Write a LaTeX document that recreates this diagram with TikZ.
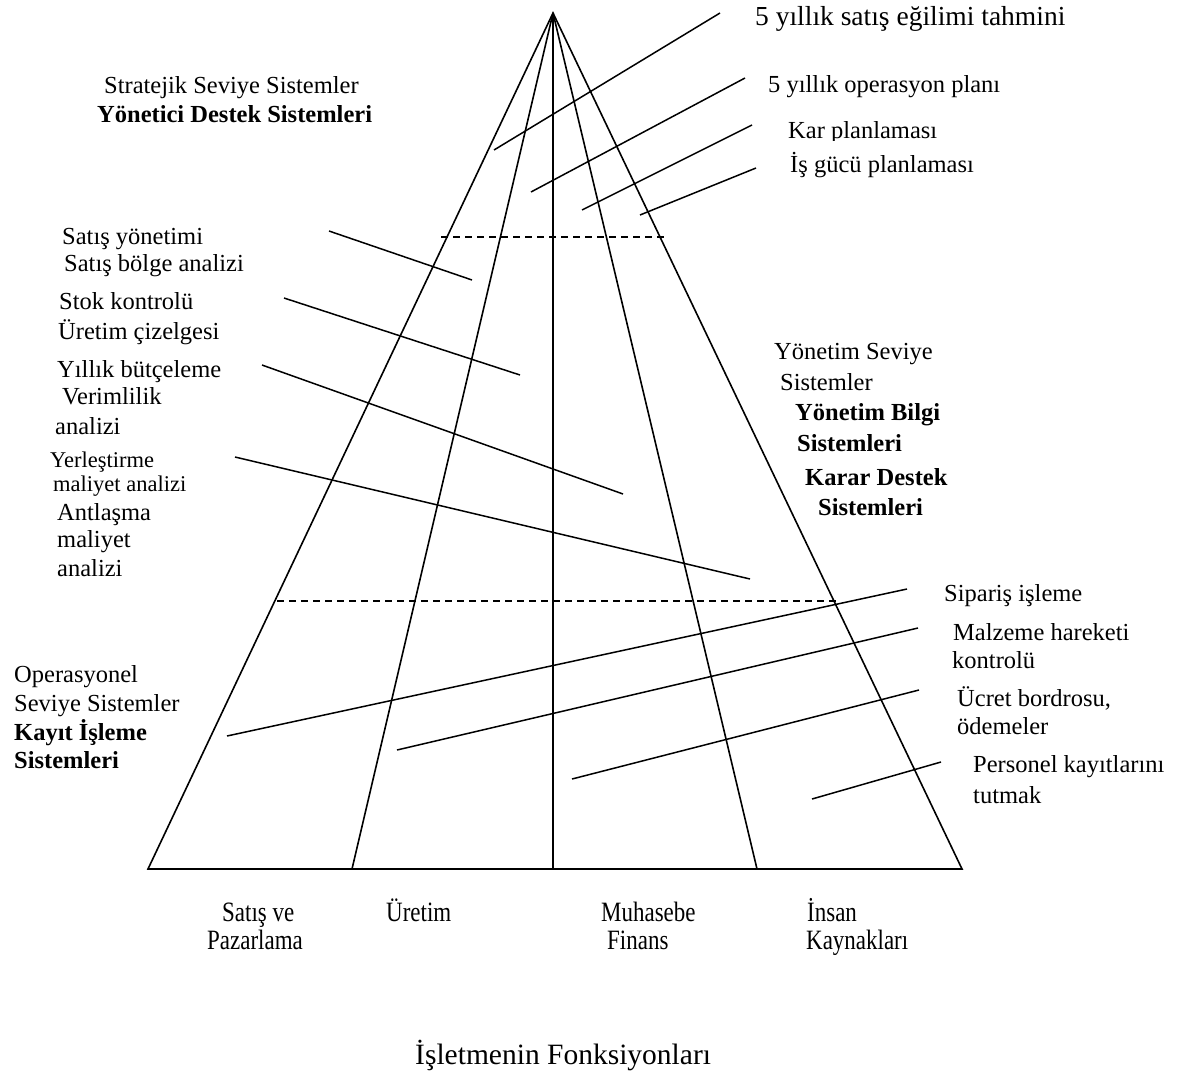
\documentclass[tikz,border=0pt]{standalone}
\usepackage{fontspec}
\setmainfont{Liberation Serif}
\newfontfamily\narrowserif{Liberation Serif}[FakeStretch=0.82]
\begin{document}
\begin{tikzpicture}[x=1pt,y=-1pt,
  edge/.style={line width=1.6pt},
  leader/.style={line width=1.5pt},
  level/.style={line width=1.3pt,dash pattern=on 7pt off 5pt},
  lbl/.style={anchor=base west,inner sep=0pt,font=\fontsize{24.5}{29}\selectfont},
  lblbig/.style={anchor=base west,inner sep=0pt,font=\fontsize{27.5}{32}\selectfont},
  lblsmall/.style={anchor=base west,inner sep=0pt,font=\fontsize{22.5}{27}\selectfont},
  blbl/.style={lbl,font=\fontsize{24.5}{29}\selectfont\bfseries},
  flbl/.style={anchor=base west,inner sep=0pt,font=\narrowserif\fontsize{28}{32}\selectfont},
  tlbl/.style={anchor=base west,inner sep=0pt,font=\fontsize{29.5}{34}\selectfont}]
\useasboundingbox (0,0) rectangle (1188,1085);

% pyramid corners and function dividers
\coordinate (apex) at (553,13);
\coordinate (bl) at (148,869);
\coordinate (d1) at (352,869);
\coordinate (d2) at (553,869);
\coordinate (d3) at (757,869);
\coordinate (br) at (962,869);
\draw[edge] (bl) -- (apex) -- (br) -- cycle;
\draw[edge] (apex) -- (d1);
\draw[edge] (apex) -- (d2);
\draw[edge] (apex) -- (d3);

% level boundaries
\coordinate (s1) at (441,237);
\coordinate (s2) at (668,237);
\coordinate (m1) at (277,601);
\coordinate (m2) at (838,601);
\draw[level] (s1) -- (s2);
\draw[level] (m1) -- (m2);

% strategic level
\node[lblbig] (t1) at (755,25) {5 yıllık satış eğilimi tahmini};
\node[lbl] (t2) at (768,92) {5 yıllık operasyon planı};
\begin{scope}
  % the text box of this label cuts off its descenders
  \clip (780,100) rectangle (960,140);
  \node[lbl] (t3) at (788,138) {Kar planlaması};
\end{scope}
\node[lbl] (t4) at (790,172) {İş gücü planlaması};
\node[lbl] (strat) at (104,93) {Stratejik Seviye Sistemler};
\node[blbl] (eds) at (97,122) {Yönetici Destek Sistemleri};
\coordinate (a1) at (494,150); \coordinate (b1) at (720,13);
\coordinate (a2) at (531,192); \coordinate (b2) at (745,78);
\coordinate (a3) at (582,210); \coordinate (b3) at (752,125);
\coordinate (a4) at (640,215); \coordinate (b4) at (756,168);
\draw[leader] (a1) -- (b1);
\draw[leader] (a2) -- (b2);
\draw[leader] (a3) -- (b3);
\draw[leader] (a4) -- (b4);

% management level
\node[lbl] (m1a) at (62,244) {Satış yönetimi};
\node[lbl] (m1b) at (64,271) {Satış bölge analizi};
\node[lbl] (m2a) at (59,309) {Stok kontrolü};
\node[lbl] (m2b) at (58,339) {Üretim çizelgesi};
\node[lbl] (m3a) at (57,377) {Yıllık bütçeleme};
\node[lbl] (m3b) at (62,404) {Verimlilik};
\node[lbl] (m3c) at (55,434) {analizi};
\node[lblsmall] (m4a) at (50,467) {Yerleştirme};
\node[lblsmall] (m4b) at (53,491) {maliyet analizi};
\node[lbl] (m4c) at (57,520) {Antlaşma};
\node[lbl] (m4d) at (57,547) {maliyet};
\node[lbl] (m4e) at (57,576) {analizi};
\coordinate (c1) at (329,231); \coordinate (e1) at (472,280);
\coordinate (c2) at (284,298); \coordinate (e2) at (520,375);
\coordinate (c3) at (262,365); \coordinate (e3) at (623,494);
\coordinate (c4) at (235,457); \coordinate (e4) at (750,579);
\draw[leader] (c1) -- (e1);
\draw[leader] (c2) -- (e2);
\draw[leader] (c3) -- (e3);
\draw[leader] (c4) -- (e4);
\node[lbl] (ms1) at (774,359) {Yönetim Seviye};
\node[lbl] (ms2) at (780,390) {Sistemler};
\node[blbl] (mis1) at (795,420) {Yönetim Bilgi};
\node[blbl] (mis2) at (797,451) {Sistemleri};
\node[blbl] (dss1) at (805,485) {Karar Destek};
\node[blbl] (dss2) at (818,515) {Sistemleri};

% operational level
\node[lbl] (o1) at (944,601) {Sipariş işleme};
\node[lbl] (o2a) at (953,640) {Malzeme hareketi};
\node[lbl] (o2b) at (952,668) {kontrolü};
\node[lbl] (o3a) at (957,706) {Ücret bordrosu,};
\node[lbl] (o3b) at (957,734) {ödemeler};
\node[lbl] (o4a) at (973,772) {Personel kayıtlarını};
\node[lbl] (o4b) at (973,803) {tutmak};
\node[lbl] (os1) at (14,682) {Operasyonel};
\node[lbl] (os2) at (14,711) {Seviye Sistemler};
\node[blbl] (tps1) at (14,740) {Kayıt İşleme};
\node[blbl] (tps2) at (14,768) {Sistemleri};
\coordinate (f1) at (227,736); \coordinate (g1) at (907,589);
\coordinate (f2) at (397,750); \coordinate (g2) at (918,628);
\coordinate (f3) at (572,779); \coordinate (g3) at (919,690);
\coordinate (f4) at (812,799); \coordinate (g4) at (941,762);
\draw[leader] (f1) -- (g1);
\draw[leader] (f2) -- (g2);
\draw[leader] (f3) -- (g3);
\draw[leader] (f4) -- (g4);

% business functions
\node[flbl] (fn1a) at (222,921) {Satış ve};
\node[flbl] (fn1b) at (207,949) {Pazarlama};
\node[flbl] (fn2) at (386,921) {Üretim};
\node[flbl] (fn3a) at (601,921) {Muhasebe};
\node[flbl] (fn3b) at (607,949) {Finans};
\node[flbl] (fn4a) at (807,921) {İnsan};
\node[flbl] (fn4b) at (806,949) {Kaynakları};
\node[tlbl] (title) at (415,1064) {İşletmenin Fonksiyonları};
\end{tikzpicture}
\end{document}
